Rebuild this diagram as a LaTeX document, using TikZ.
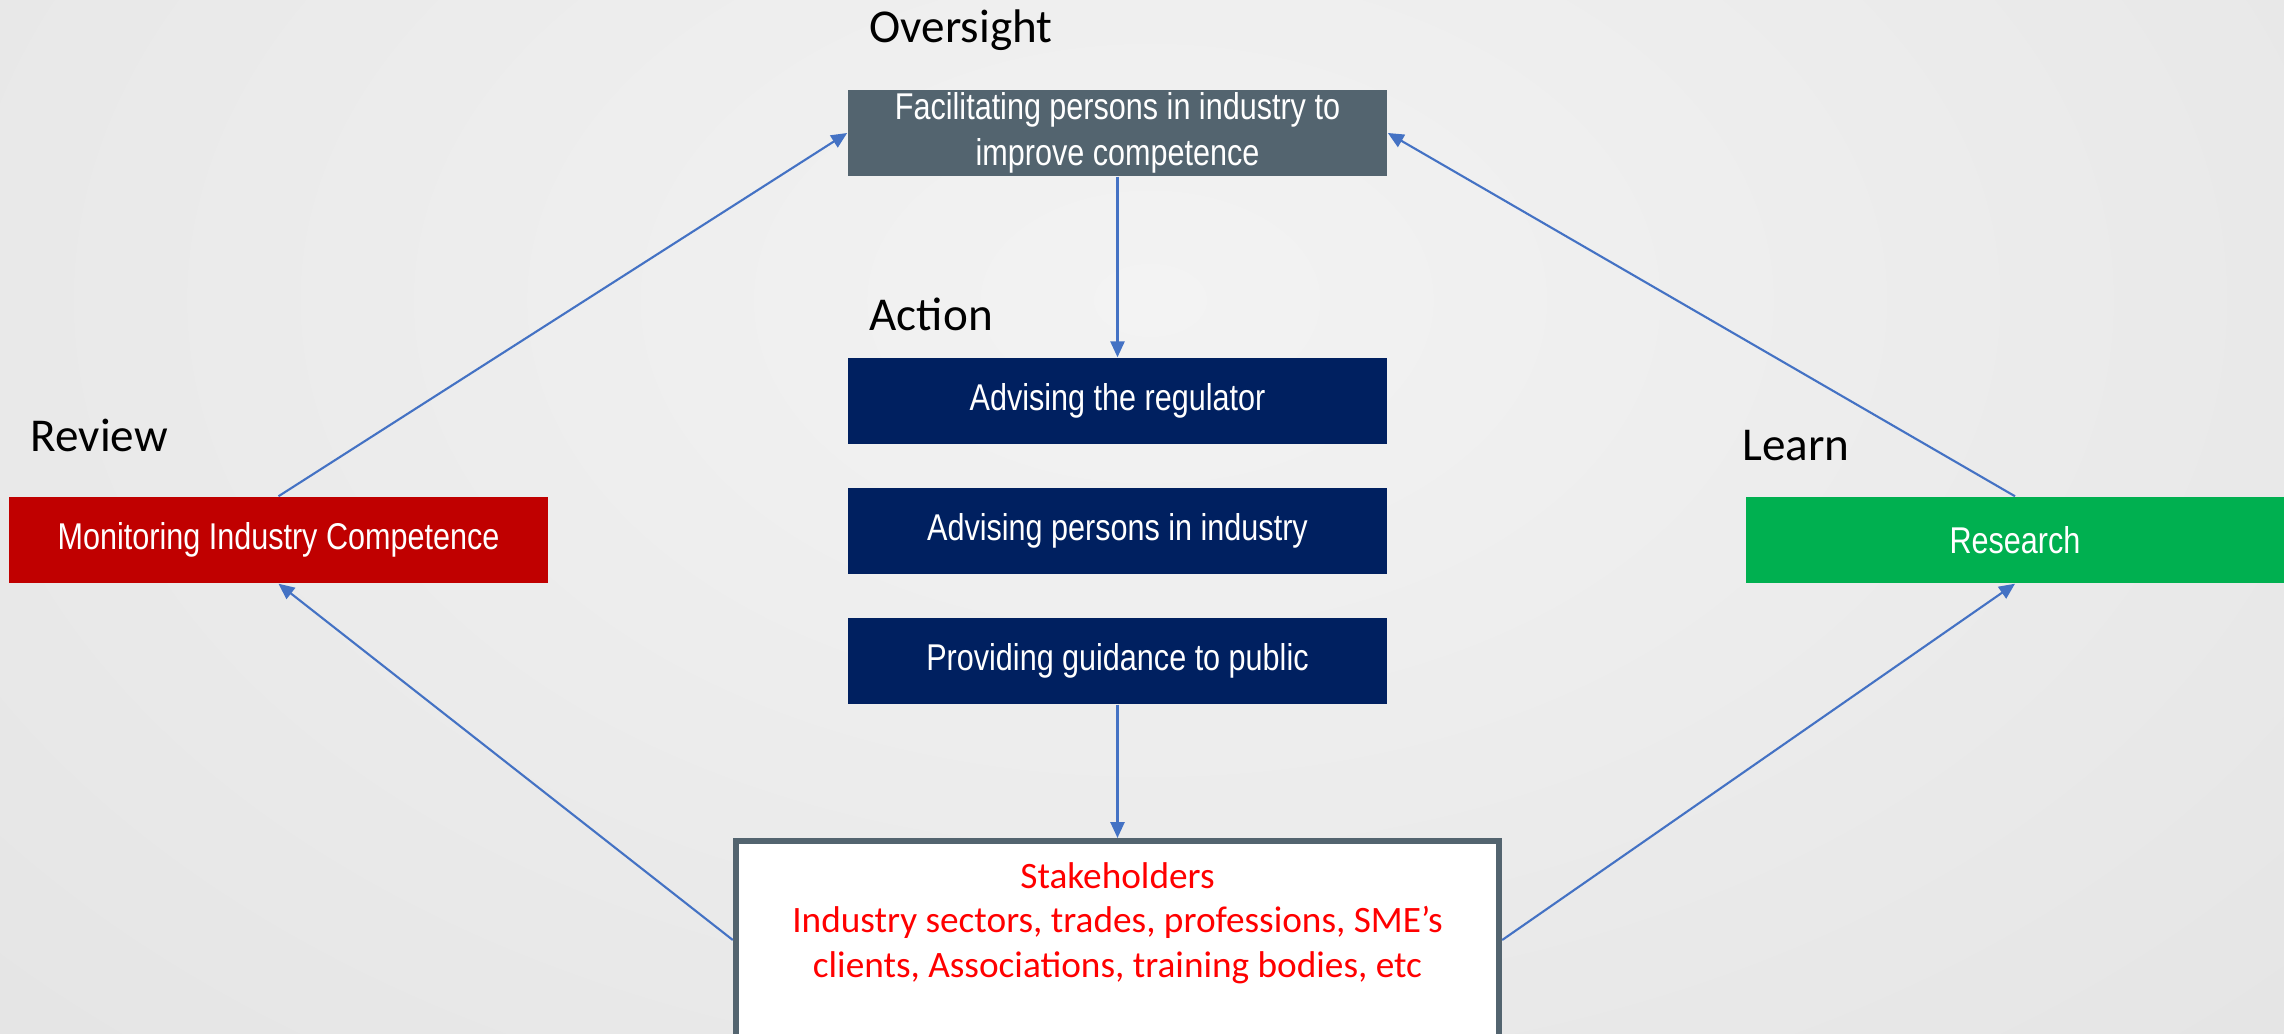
\documentclass[tikz,border=0pt]{standalone}
\usepackage{fontspec}
\setmainfont{Carlito}
\newfontfamily\narrowfont[FakeStretch=0.82]{Liberation Sans}
\usetikzlibrary{arrows.meta}
\definecolor{slate}{HTML}{53646F}
\definecolor{navybox}{HTML}{002060}
\definecolor{redbox}{HTML}{C00000}
\definecolor{greenbox}{HTML}{00B050}
\definecolor{conncol}{HTML}{4472C4}
\definecolor{stkred}{HTML}{FF0000}
\definecolor{bgin}{HTML}{F3F3F3}
\definecolor{bgout}{HTML}{D5D5D5}
\pgfdeclareradialshading{bgshade}{\pgfpoint{0bp}{0bp}}{color(0bp)=(bgin); color(50bp)=(bgout)}
\tikzset{
  boxbase/.style={rectangle, inner sep=0pt, minimum width=5.39cm, minimum height=0.86cm,
    text=white, align=center, font=\narrowfont\fontsize{10.6}{13}\selectfont},
  overbox/.style={boxbase, fill=slate},
  actbox/.style={boxbase, fill=navybox},
  revbox/.style={boxbase, fill=redbox},
  learnbox/.style={boxbase, fill=greenbox, minimum width=5.38cm},
  stakebox/.style={rectangle, draw=slate, line width=1.7pt, fill=white, inner sep=0pt,
    minimum width=7.63cm, minimum height=1.98cm},
  stktext/.style={text=stkred, align=center, inner sep=0pt, font=\fontsize{10.6}{12.6}\selectfont},
  lbl/.style={anchor=base west, inner sep=0pt, font=\fontsize{13.4}{15}\selectfont},
  conn/.style={draw=conncol, line width=0.6pt, -{Triangle[length=4.5pt,width=4pt]}}
}
\begin{document}
\begin{tikzpicture}[x=0.01cm, y=-0.01cm]
\clip (0,0) rectangle (2284,1034);
\shade[shading=bgshade] (-550,-800) rectangle (2850,1400);

\node[lbl] (lov) at (869,43) {Oversight};
\node[lbl] (lac) at (869,331) {Action};
\node[lbl] (lrv) at (30,452) {Review};
\node[lbl] (lle) at (1742,461) {Learn};

\node[overbox] (over) at (1117.5,133) {Facilitating persons in industry to\\improve competence};
\node[actbox] (reg) at (1117.5,401) {Advising the regulator};
\node[actbox] (pers) at (1117.5,531) {Advising persons in industry};
\node[actbox] (pub) at (1117.5,661) {Providing guidance to public};
\node[revbox] (mon) at (278.5,540) {Monitoring Industry Competence};
\node[learnbox] (res) at (2015,540) {Research};
\node[stakebox, label={[stktext, anchor=north, yshift=-0.24cm]north:{Stakeholders\\Industry sectors, trades, professions, SME’s\\clients, Associations, training bodies, etc}}] (stake) at (1117.5,940) {};

\draw[conn] (over.south) -- (reg.north);
\draw[conn] (pub.south) -- (stake.north);
\draw[conn] (mon.north) -- (over.west);
\draw[conn] (res.north) -- (over.east);
\draw[conn] (stake.west) -- (mon.south);
\draw[conn] (stake.east) -- (res.south);
\end{tikzpicture}
\end{document}
